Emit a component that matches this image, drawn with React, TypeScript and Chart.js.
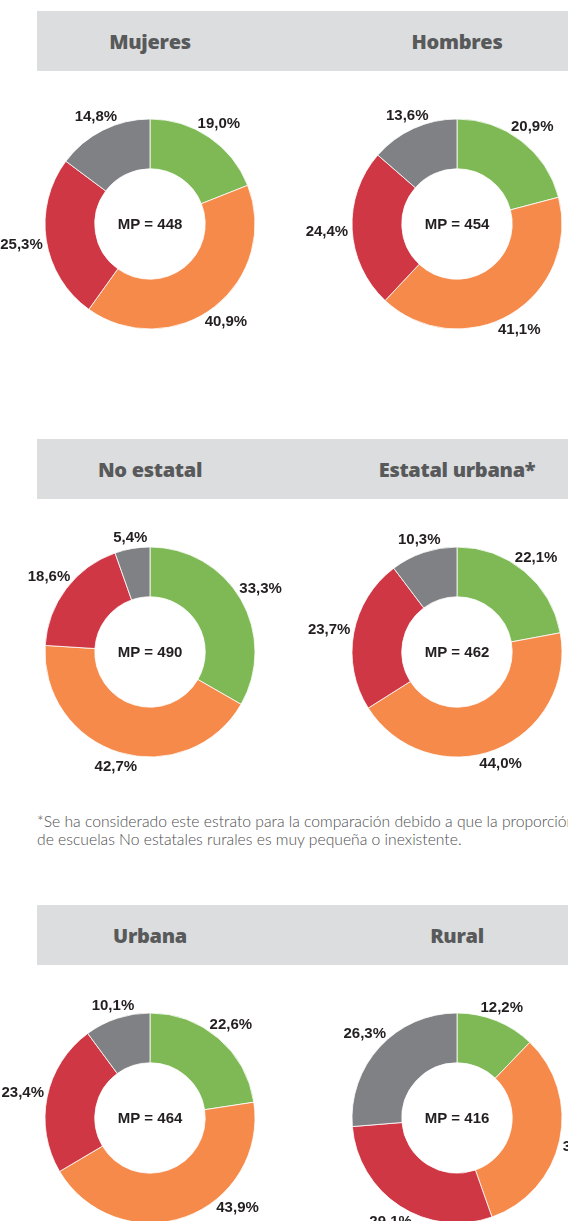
import React, { useEffect, useRef } from "react";
import { Chart, registerables } from "chart.js";

Chart.register(...registerables);

// ---- Data ----
const levels = ["Satisfactorio", "En proceso", "En inicio", "Previo al inicio"];
const levelColors = ["#7EB956", "#F58A4B", "#D03744", "#808184"];

const groupTitles = ["Mujeres", "Hombres", "No estatal", "Estatal urbana*", "Urbana", "Rural"];
const mujeres = [19.0, 40.9, 25.3, 14.8];
const hombres = [20.9, 41.1, 24.4, 13.6];
const noEstatal = [33.3, 42.7, 18.6, 5.4];
const estatalUrbana = [22.1, 44.0, 23.7, 10.3];
const urbana = [22.6, 43.9, 23.4, 10.1];
const rural = [12.2, 32.4, 29.1, 26.3];
const mediaPromedio = [448, 454, 490, 462, 464, 416];

const footnoteLines = [
  "*Se ha considerado este estrato para la comparación debido a que la proporción",
  "de escuelas No estatales rurales es muy pequeña o inexistente.",
];

const groupValues = [mujeres, hombres, noEstatal, estatalUrbana, urbana, rural];

// ---- Layout ----
const PAGE_W = 568;
const PAGE_H = 1221;
const sectionTops = [11, 439, 905];
const BAND_H = 60;
const BAND_LEFT = 37;
const colCenters = [150, 457];
const DONUT_OFFSET = 213; // from band top to donut center
const OUTER_R = 105;
const INNER_R = 55;
const CANVAS_W = 340;
const CANVAS_H = 300;

const fmt = (v: number) => v.toFixed(1).replace(".", ",") + "%";

const labelPlugin = {
  id: "donutLabels",
  afterDraw(chart: any, _args: any, opts: any) {
    const ctx = chart.ctx;
    const meta = chart.getDatasetMeta(0);
    const data = chart.data.datasets[0].data as number[];
    const maxY: number = opts && typeof opts.maxY === "number" ? opts.maxY : Infinity;
    ctx.save();
    ctx.font = "bold 15px 'Liberation Sans', Arial, sans-serif";
    ctx.fillStyle = "#231F20";
    ctx.textAlign = "center";
    ctx.textBaseline = "middle";
    meta.data.forEach((arc: any, i: number) => {
      const p = arc.getProps(["x", "y", "startAngle", "endAngle", "outerRadius"], true);
      const mid = (p.startAngle + p.endAngle) / 2;
      const text = fmt(data[i]);
      const w = ctx.measureText(text).width;
      const h = 15;
      const distFor = (dx: number, dy: number) =>
        p.outerRadius + 4 + Math.sqrt((w / 2 * dx) ** 2 + (h / 2 * dy) ** 2);
      let dx = Math.cos(mid);
      let dy = Math.sin(mid);
      let d = distFor(dx, dy);
      // keep a label that would fall below the visible page inside it
      if (p.y + dy * d > maxY) {
        const target = maxY - 14 - p.y;
        const side = dx >= 0 ? 1 : -1;
        for (let k = 0; k < 6; k++) {
          const s = Math.max(-1, Math.min(1, target / d));
          dy = s;
          dx = side * Math.sqrt(1 - s * s);
          d = distFor(dx, dy);
        }
      }
      ctx.fillText(text, p.x + dx * d, p.y + dy * d + 1);
    });
    const first = meta.data[0] as any;
    if (first) {
      const c = first.getProps(["x", "y"], true);
      ctx.font = "bold 15px 'Liberation Sans', Arial, sans-serif";
      ctx.fillText(opts.centerText, c.x, c.y + 1);
    }
    ctx.restore();
  },
};

function Donut({ values, mp, cx, cy }: { values: number[]; mp: number; cx: number; cy: number }) {
  const ref = useRef<HTMLCanvasElement>(null);
  const canvasTop = cy - CANVAS_H / 2;
  useEffect(() => {
    if (!ref.current) return;
    const padX = (CANVAS_W - 2 * OUTER_R) / 2;
    const padY = (CANVAS_H - 2 * OUTER_R) / 2;
    const chart = new Chart(ref.current, {
      type: "doughnut",
      data: {
        labels: levels,
        datasets: [
          {
            data: values,
            backgroundColor: levelColors,
            borderColor: "#ffffff",
            borderWidth: 0.8,
          },
        ],
      },
      options: {
        animation: false,
        responsive: false,
        maintainAspectRatio: false,
        radius: OUTER_R,
        cutout: INNER_R,
        layout: { padding: { left: padX, right: padX, top: padY, bottom: padY } },
        plugins: {
          legend: { display: false },
          tooltip: { enabled: false },
          donutLabels: { maxY: PAGE_H - canvasTop, centerText: "MP = " + mp },
        } as any,
      },
      plugins: [labelPlugin],
    });
    return () => chart.destroy();
  }, [values, mp, canvasTop]);
  return (
    <canvas
      ref={ref}
      width={CANVAS_W}
      height={CANVAS_H}
      style={{
        position: "absolute",
        left: cx - CANVAS_W / 2,
        top: canvasTop,
        width: CANVAS_W,
        height: CANVAS_H,
      }}
    />
  );
}

export default function App() {
  return (
    <div
      style={{
        position: "absolute",
        left: 0,
        top: 0,
        width: PAGE_W,
        height: PAGE_H,
        overflow: "hidden",
        background: "#ffffff",
      }}
    >
      {sectionTops.map((top, s) => (
        <div
          key={"band" + s}
          style={{
            position: "absolute",
            left: BAND_LEFT,
            top,
            width: PAGE_W - BAND_LEFT,
            height: BAND_H,
            background: "#DCDDDE",
          }}
        />
      ))}
      {sectionTops.map((top, s) =>
        colCenters.map((cx, c) => {
          const idx = s * 2 + c;
          return (
            <div
              key={"title" + idx}
              style={{
                position: "absolute",
                left: cx - 120,
                width: 240,
                top: top,
                height: BAND_H,
                lineHeight: BAND_H + 2 + "px",
                textAlign: "center",
                fontFamily: "'Open Sans', sans-serif",
                fontWeight: 800,
                fontSize: 20,
                letterSpacing: -0.3,
                color: "#58595B",
              }}
            >
              {groupTitles[idx]}
            </div>
          );
        })
      )}
      {sectionTops.map((top, s) =>
        colCenters.map((cx, c) => {
          const idx = s * 2 + c;
          return (
            <Donut
              key={"donut" + idx}
              values={groupValues[idx]}
              mp={mediaPromedio[idx]}
              cx={cx}
              cy={top + DONUT_OFFSET}
            />
          );
        })
      )}
      <div
        style={{
          position: "absolute",
          left: BAND_LEFT,
          top: 812,
          width: 620,
          fontFamily: "Lato, 'Open Sans', sans-serif",
          fontWeight: 300,
          fontSize: 15.7,
          lineHeight: "18px",
          color: "#4D4D4F",
          whiteSpace: "nowrap",
        }}
      >
        {footnoteLines.map((l, i) => (
          <div key={i}>{l}</div>
        ))}
      </div>
    </div>
  );
}
